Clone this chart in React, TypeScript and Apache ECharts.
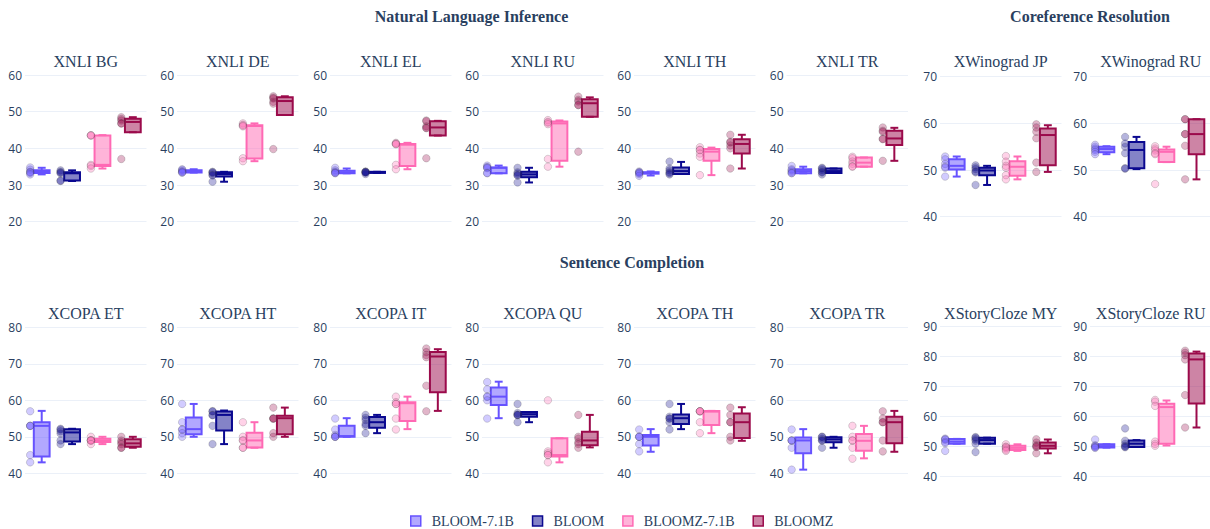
import React, { useEffect, useRef } from 'react';
import * as echarts from 'echarts';

// ---------- data ----------
const models = ['BLOOM-7.1B', 'BLOOM', 'BLOOMZ-7.1B', 'BLOOMZ'];
const panelTitles = [
  'XNLI BG', 'XNLI DE', 'XNLI EL', 'XNLI RU', 'XNLI TH', 'XNLI TR', 'XWinograd JP', 'XWinograd RU',
  'XCOPA ET', 'XCOPA HT', 'XCOPA IT', 'XCOPA QU', 'XCOPA TH', 'XCOPA TR', 'XStoryCloze MY', 'XStoryCloze RU',
];
const sectionTitles = ['Natural Language Inference', 'Coreference Resolution', 'Sentence Completion'];

// box stats per model: [min, q1, median, q3, max]; points per model
const xnliBgBox = [[32.9, 33.3, 33.6, 34.0, 34.7], [31.1, 31.2, 33.2, 33.5, 34.0], [34.5, 35.2, 35.5, 43.5, 43.6], [44.4, 44.4, 47.2, 48.1, 48.5]];
const xnliBgPts = [[34.8, 34.2, 33.6, 33.5, 33.3, 32.9], [34.0, 33.6, 33.4, 33.2, 31.2, 31.1], [43.6, 43.5, 43.5, 35.5, 35.2, 34.5], [48.5, 48.0, 47.6, 46.8, 46.8, 37.1]];
const xnliDeBox = [[33.4, 33.4, 33.7, 34.0, 34.3], [30.9, 32.3, 33.0, 33.5, 33.6], [36.5, 37.2, 46.1, 46.3, 46.8], [49.1, 49.1, 52.9, 53.9, 54.2]];
const xnliDePts = [[34.3, 34.1, 33.8, 33.6, 33.4, 33.4], [33.6, 33.5, 33.3, 32.8, 32.6, 30.9], [46.8, 46.4, 46.2, 46.0, 37.3, 36.5], [54.2, 53.8, 53.6, 52.7, 52.2, 39.8]];
const xnliElBox = [[33.2, 33.2, 33.5, 33.9, 34.5], [33.3, 33.3, 33.5, 33.6, 33.6], [34.3, 35.2, 41.0, 41.2, 41.5], [43.5, 43.5, 45.7, 47.4, 47.5]];
const xnliElPts = [[34.7, 34.0, 33.6, 33.4, 33.3, 33.2], [33.7, 33.6, 33.5, 33.5, 33.4, 33.0], [41.5, 41.3, 41.2, 41.1, 35.5, 34.3], [47.6, 47.4, 46.0, 45.6, 45.5, 37.3]];
const xnliRuBox = [[33.2, 33.2, 34.7, 34.8, 35.3], [30.7, 32.1, 32.9, 33.6, 34.7], [35.0, 36.6, 46.8, 47.3, 47.6], [48.6, 48.6, 52.3, 53.4, 53.9]];
const xnliRuPts = [[35.3, 34.9, 34.8, 34.6, 33.3, 33.2], [34.7, 33.5, 33.1, 32.7, 32.6, 30.7], [47.7, 47.2, 47.0, 46.6, 37.1, 35.0], [54.1, 53.2, 52.8, 51.8, 51.8, 39.1]];
const xnliThBox = [[32.6, 33.1, 33.3, 33.5, 33.7], [33.0, 33.0, 33.8, 34.8, 36.3], [32.7, 36.6, 39.1, 39.8, 40.2], [34.5, 38.6, 41.2, 42.5, 43.7]];
const xnliThPts = [[33.7, 33.5, 33.4, 33.3, 33.0, 32.5], [36.4, 34.5, 34.0, 33.5, 33.2, 32.9], [40.3, 39.6, 39.5, 38.6, 37.7, 32.7], [43.7, 41.8, 41.6, 40.8, 40.0, 34.5]];
const xnliTrBox = [[33.2, 33.2, 33.8, 34.3, 35.0], [33.3, 33.3, 33.8, 34.5, 34.5], [35.0, 35.0, 36.1, 37.5, 37.5], [36.6, 40.9, 42.7, 44.8, 45.6]];
const xnliTrPts = [[35.2, 34.3, 34.0, 33.6, 33.3, 33.2], [34.7, 34.5, 34.1, 33.6, 33.4, 32.9], [37.7, 37.3, 36.4, 35.8, 35.1, 35.0], [45.7, 44.8, 44.5, 42.6, 42.5, 36.6]];
const wgJpBox = [[48.6, 50.1, 50.9, 52.3, 52.9], [46.8, 48.9, 49.9, 50.5, 50.9], [48.0, 48.8, 50.7, 51.9, 52.9], [49.6, 51.0, 57.5, 58.9, 59.6]];
const wgJpPts = [[52.9, 52.3, 51.3, 50.7, 50.5, 48.6], [51.0, 50.6, 50.2, 49.7, 49.5, 46.8], [53.0, 51.8, 50.9, 50.5, 48.9, 48.0], [59.8, 59.1, 58.2, 56.8, 51.6, 49.6]];
const wgRuBox = [[53.4, 53.8, 54.5, 55.0, 55.1], [50.2, 50.4, 54.3, 56.0, 57.1], [51.7, 51.7, 53.9, 54.4, 55.0], [48.0, 53.4, 57.7, 60.9, 60.9]];
const wgRuPts = [[55.4, 55.0, 54.6, 54.3, 53.9, 53.4], [57.1, 55.7, 55.0, 53.6, 50.4, 50.3], [55.1, 54.6, 54.2, 53.6, 53.4, 47.0], [60.9, 60.9, 57.7, 57.7, 55.2, 48.0]];
const copaEtBox = [[43.0, 44.6, 53.0, 54.0, 57.1], [48.0, 48.7, 51.2, 52.1, 52.2], [48.0, 48.6, 49.0, 49.5, 50.0], [47.0, 47.3, 48.2, 49.3, 50.0]];
const copaEtPts = [[57.0, 53.0, 53.0, 53.0, 45.0, 43.0], [52.2, 52.0, 51.5, 50.9, 49.0, 48.0], [50.0, 49.0, 49.0, 49.0, 49.0, 48.0], [50.0, 49.0, 48.5, 48.0, 47.0, 47.0]];
const copaHtBox = [[50.0, 50.7, 52.1, 55.3, 59.0], [48.0, 51.7, 56.0, 56.9, 57.2], [47.0, 47.1, 49.0, 51.1, 54.0], [50.0, 50.7, 55.1, 55.8, 58.0]];
const copaHtPts = [[59.0, 54.0, 52.0, 52.0, 51.0, 50.0], [57.0, 57.0, 56.0, 55.9, 53.0, 48.0], [54.0, 50.0, 49.0, 49.0, 47.0, 47.0], [58.0, 55.0, 55.0, 55.0, 51.0, 50.0]];
const copaItBox = [[50.0, 50.0, 50.2, 53.0, 55.1], [51.0, 52.5, 54.0, 55.4, 56.0], [52.1, 54.3, 59.2, 59.5, 61.0], [57.1, 62.2, 72.0, 73.2, 74.0]];
const copaItPts = [[55.0, 52.0, 50.5, 50.0, 50.0, 50.0], [56.0, 55.2, 54.6, 53.5, 53.0, 51.0], [61.0, 59.5, 59.0, 59.0, 55.0, 52.0], [74.2, 73.2, 72.4, 71.8, 64.0, 57.0]];
const copaQuBox = [[55.1, 58.7, 61.0, 63.5, 65.1], [54.0, 55.5, 56.2, 56.8, 56.8], [43.0, 44.6, 45.0, 49.6, 49.6], [47.1, 47.7, 49.0, 51.4, 56.0]];
const copaQuPts = [[65.0, 63.0, 61.0, 61.0, 60.0, 55.0], [59.0, 56.5, 56.0, 56.0, 56.0, 54.0], [60.0, 46.0, 45.5, 45.0, 45.0, 43.0], [56.0, 50.0, 49.5, 48.5, 48.0, 47.0]];
const copaThBox = [[45.9, 47.6, 50.0, 50.5, 52.1], [52.1, 53.5, 55.1, 56.1, 59.0], [51.0, 53.2, 56.9, 57.1, 57.1], [48.9, 49.7, 54.0, 56.4, 58.1]];
const copaThPts = [[52.0, 50.0, 50.0, 50.0, 48.0, 46.0], [59.0, 55.5, 55.0, 55.0, 54.0, 52.0], [57.0, 57.0, 57.0, 57.0, 54.0, 51.0], [58.0, 56.0, 54.0, 54.0, 50.0, 49.0]];
const copaTrBox = [[41.0, 45.5, 49.0, 49.8, 52.1], [47.0, 48.5, 49.3, 49.9, 50.0], [44.1, 46.2, 48.9, 50.8, 53.0], [45.9, 48.2, 54.0, 55.5, 57.1]];
const copaTrPts = [[52.0, 49.0, 49.0, 49.0, 47.0, 41.0], [50.0, 50.0, 49.5, 49.0, 49.0, 47.0], [53.0, 50.0, 49.0, 49.0, 47.0, 44.0], [57.0, 55.0, 54.0, 54.0, 49.0, 46.0]];
const scMyBox = [[51.0, 51.0, 51.7, 52.6, 52.6], [51.0, 51.0, 52.2, 53.0, 53.0], [48.6, 48.9, 49.6, 50.3, 50.8], [47.8, 49.4, 50.3, 51.4, 52.4]];
const scMyPts = [[52.7, 52.5, 52.3, 51.6, 51.2, 48.6], [53.2, 53.0, 52.5, 52.0, 51.0, 48.2], [50.8, 50.0, 49.9, 49.5, 49.0, 48.6], [52.5, 51.4, 50.5, 50.1, 49.9, 47.8]];
const scRuBox = [[49.7, 49.7, 50.2, 50.8, 50.8], [49.9, 49.9, 51.0, 52.1, 52.2], [50.4, 51.0, 63.2, 64.3, 65.4], [56.4, 64.4, 79.1, 81.1, 81.7]];
const scRuPts = [[52.4, 50.5, 50.2, 50.0, 49.8, 49.6], [56.1, 52.0, 51.0, 50.3, 50.0, 49.8], [65.6, 65.0, 63.6, 51.7, 50.9, 50.3], [82.0, 81.3, 80.5, 79.1, 67.2, 56.4]];

const panelBoxes = [xnliBgBox, xnliDeBox, xnliElBox, xnliRuBox, xnliThBox, xnliTrBox, wgJpBox, wgRuBox,
  copaEtBox, copaHtBox, copaItBox, copaQuBox, copaThBox, copaTrBox, scMyBox, scRuBox];
const panelPoints = [xnliBgPts, xnliDePts, xnliElPts, xnliRuPts, xnliThPts, xnliTrPts, wgJpPts, wgRuPts,
  copaEtPts, copaHtPts, copaItPts, copaQuPts, copaThPts, copaTrPts, scMyPts, scRuPts];

// y-axis tick ranges per panel kind
const xnliTicks = [20, 60];
const winogradTicks = [40, 70];
const copaTicks = [40, 80];
const clozeTicks = [40, 90];

// ---------- style / layout ----------
const lineColors = ['#6652ff', '#0a0890', '#ff69b4', '#9b0a4b'];
const fillColors = ['rgba(102,82,255,0.5)', 'rgba(10,8,144,0.5)', 'rgba(255,105,180,0.5)', 'rgba(155,10,75,0.5)'];
const colLefts = [25, 177, 330, 482, 634, 786.5, 940, 1090];
const colWidth = 121.5;
const BOX_SHIFT = 0.05;
const BOX_HALF = 0.26;
const PT_SHIFT = -0.33;
const TEXT_COLOR = '#2a3f5f';
const SERIF = '"Liberation Serif", "Times New Roman", serif';

function panelLayout(p: number) {
  const row = p < 8 ? 0 : 1;
  const col = p % 8;
  const wide = col >= 6;
  let top: number, height: number, ticks: number[];
  if (row === 0 && !wide) { top = 75; height = 146.7; ticks = xnliTicks; }
  else if (row === 0) { top = 76.7; height = 140; ticks = winogradTicks; }
  else if (!wide) { top = 327.3; height = 146; ticks = copaTicks; }
  else { top = 326.7; height = 150; ticks = clozeTicks; }
  return { row, col, left: colLefts[col], top, height, ticks };
}

function makeRenderItem(m: number) {
  return (params: any, api: any) => {
    const xi = api.value(0) + BOX_SHIFT;
    const pMin = api.coord([xi, api.value(1)]);
    const pQ1 = api.coord([xi, api.value(2)]);
    const pMed = api.coord([xi, api.value(3)]);
    const pQ3 = api.coord([xi, api.value(4)]);
    const pMax = api.coord([xi, api.value(5)]);
    const half = api.size([BOX_HALF, 0])[0];
    const cap = half * 0.5;
    const x = pMed[0];
    const ls = { stroke: lineColors[m], lineWidth: 2, fill: 'none' };
    return {
      type: 'group',
      children: [
        { type: 'line', shape: { x1: x, y1: pQ3[1], x2: x, y2: pMax[1] }, style: ls },
        { type: 'line', shape: { x1: x, y1: pQ1[1], x2: x, y2: pMin[1] }, style: ls },
        { type: 'line', shape: { x1: x - cap, y1: pMax[1], x2: x + cap, y2: pMax[1] }, style: ls },
        { type: 'line', shape: { x1: x - cap, y1: pMin[1], x2: x + cap, y2: pMin[1] }, style: ls },
        {
          type: 'rect',
          shape: { x: x - half, y: pQ3[1], width: 2 * half, height: pQ1[1] - pQ3[1] },
          style: { fill: fillColors[m], stroke: lineColors[m], lineWidth: 2 },
        },
        { type: 'line', shape: { x1: x - half, y1: pMed[1], x2: x + half, y2: pMed[1] }, style: ls },
      ],
    };
  };
}

function buildOption() {
  const grid: any[] = [];
  const xAxis: any[] = [];
  const yAxis: any[] = [];
  const series: any[] = [];
  const graphic: any[] = [];

  panelTitles.forEach((title, p) => {
    const L = panelLayout(p);
    grid.push({ left: L.left, top: L.top, width: colWidth, height: L.height, containLabel: false });
    xAxis.push({ gridIndex: p, type: 'value', min: -0.5, max: 3.5, show: false });
    yAxis.push({
      gridIndex: p, type: 'value', min: L.ticks[0], max: L.ticks[1], interval: 10,
      axisLine: { show: false }, axisTick: { show: false },
      axisLabel: { color: TEXT_COLOR, fontSize: 12, fontFamily: '"Open Sans", sans-serif', margin: 3 },
      splitLine: { lineStyle: { color: '#ebf0f8', width: 1 } },
    });
    graphic.push({
      type: 'text',
      x: L.left + colWidth / 2,
      y: L.row === 0 ? 61 : 313.5,
      style: {
        text: title, fill: TEXT_COLOR, fontSize: 16, fontFamily: SERIF,
        textAlign: 'center', textVerticalAlign: 'middle', align: 'center', verticalAlign: 'middle',
      },
    });
    models.forEach((name, m) => {
      const b = panelBoxes[p][m];
      series.push({
        type: 'custom', name, xAxisIndex: p, yAxisIndex: p,
        itemStyle: { color: lineColors[m] },
        encode: { x: 0, y: [1, 2, 3, 4, 5] },
        data: [[m, b[0], b[1], b[2], b[3], b[4]]],
        renderItem: makeRenderItem(m),
        z: 2,
      });
      series.push({
        type: 'scatter', name, xAxisIndex: p, yAxisIndex: p,
        symbol: 'circle', symbolSize: 7.5,
        itemStyle: { color: lineColors[m], opacity: 0.3, borderColor: '#444', borderWidth: 0.7 },
        data: panelPoints[p][m].map((v) => [m + PT_SHIFT, v]),
        z: 3,
      });
    });
  });

  const sectionPos = [[471.5, 16.5], [1090, 16.5], [632, 262.5]];
  sectionTitles.forEach((t, i) => {
    graphic.push({
      type: 'text', x: sectionPos[i][0], y: sectionPos[i][1],
      style: {
        text: t, fill: TEXT_COLOR, fontSize: 16, fontWeight: 'bold', fontFamily: SERIF,
        textAlign: 'center', textVerticalAlign: 'middle', align: 'center', verticalAlign: 'middle',
      },
    });
  });

  return {
    animation: false,
    backgroundColor: '#ffffff',
    grid, xAxis, yAxis, series, graphic,
    legend: {
      left: 410, top: 514, padding: 0,
      itemWidth: 10, itemHeight: 10, itemGap: 18, icon: 'rect',
      textStyle: { color: TEXT_COLOR, fontSize: 14, fontFamily: SERIF, padding: [0, 0, 0, 6] },
      data: models.map((name, m) => ({
        name,
        itemStyle: { color: fillColors[m], borderColor: lineColors[m], borderWidth: 1.5 },
      })),
    },
  };
}

export default function App() {
  const ref = useRef<HTMLDivElement>(null);
  useEffect(() => {
    if (!ref.current) return;
    const chart = echarts.init(ref.current, undefined, { renderer: 'svg' });
    chart.setOption(buildOption() as any);
    return () => chart.dispose();
  }, []);
  return (
    <div
      ref={ref}
      style={{ position: 'fixed', left: 0, top: 0, width: 1210, height: 529, background: '#fff' }}
    />
  );
}
